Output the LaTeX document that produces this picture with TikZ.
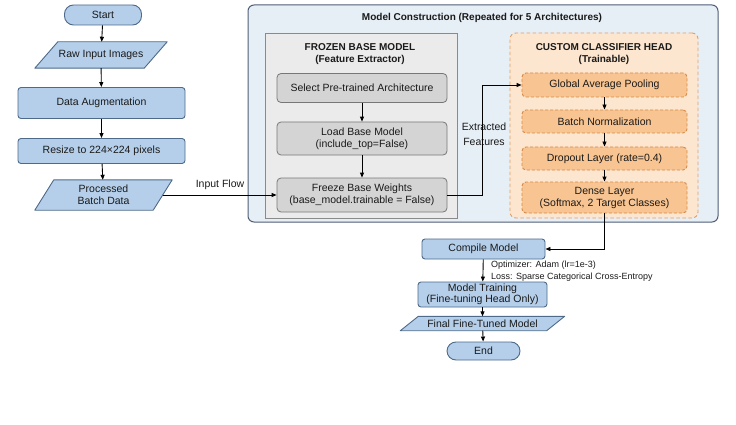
\documentclass[tikz,border=0pt]{standalone}
\usepackage{fontspec}
\setmainfont{Liberation Sans}
\usetikzlibrary{arrows.meta,positioning}
\definecolor{bluefill}{HTML}{B5CFEA}
\definecolor{blueline}{HTML}{4D6A8A}
\definecolor{outerfill}{HTML}{E6EEF6}
\definecolor{outerline}{HTML}{4F5F75}
\definecolor{grayfill}{HTML}{EBEBEB}
\definecolor{grayline}{HTML}{8A8A8A}
\definecolor{grayboxfill}{HTML}{D4D4D4}
\definecolor{grayboxline}{HTML}{777777}
\definecolor{orfill}{HTML}{FDE6CF}
\definecolor{orline}{HTML}{E0A06A}
\definecolor{orboxfill}{HTML}{F8C491}
\definecolor{orboxline}{HTML}{D58A4C}
\definecolor{txt}{HTML}{1A1A1A}
\tikzset{
  base/.style={font=\fontsize{10.5}{12}\selectfont, text=txt, align=center, inner sep=0pt},
  bluebox/.style={base, draw=blueline, fill=bluefill, line width=0.9pt, rounded corners=3pt},
  term/.style={base, draw=blueline, fill=bluefill, line width=0.9pt, rounded corners=9pt},
  iotext/.style={base},
  iofill/.style={draw=blueline, fill=bluefill, line width=0.9pt, line join=round},
  graybox/.style={base, draw=grayboxline, fill=grayboxfill, line width=0.8pt, rounded corners=4pt},
  orbox/.style={base, draw=orboxline, fill=orboxfill, line width=0.9pt, dashed, dash pattern=on 3pt off 2pt, rounded corners=4pt},
  titletext/.style={font=\bfseries\fontsize{10}{12}\selectfont, text=txt, align=center, inner sep=0pt},
  note/.style={font=\fontsize{9}{10}\selectfont, text=txt, align=left, inner sep=0pt},
  arr/.style={-{Triangle[length=5pt,width=4pt]}, line width=0.9pt, draw=black},
}
\newcommand{\parall}[2]{%
  \path[iofill] ([xshift=-#2]#1.south west) -- ([xshift=#2]#1.north west) -- ([xshift=#2]#1.north east) -- ([xshift=-#2]#1.south east) -- cycle;}
\begin{document}
\begin{tikzpicture}[x=1pt,y=-1pt]
\useasboundingbox (0,0) rectangle (736,425);
% containers
\node[draw=outerline, fill=outerfill, line width=1pt, rounded corners=6pt, minimum width=470pt, minimum height=217pt, inner sep=0pt] (outer) at (483,113.5) {};
\node[titletext] (outertitle) at (482,18) {Model Construction (Repeated for 5 Architectures)};
\node[draw=grayline, fill=grayfill, line width=0.8pt, minimum width=192pt, minimum height=185pt, inner sep=0pt] (frozen) at (361,125.5) {};
\node[titletext] (frozentitle) at (360,54.5) {FROZEN BASE MODEL\\(Feature Extractor)};
\node[draw=orline, fill=orfill, line width=0.9pt, dashed, dash pattern=on 3.5pt off 2.5pt, rounded corners=6pt, minimum width=188pt, minimum height=185pt, inner sep=0pt] (head) at (604,125.5) {};
\node[titletext] (headtitle) at (604,54.5) {CUSTOM CLASSIFIER HEAD\\(Trainable)};

% left column
\node[term, minimum width=77pt, minimum height=20pt] (start) at (103,15) {Start};
\node[iotext, minimum width=109pt, minimum height=26pt] (raw) at (101,55) {};
\parall{raw}{11.5pt}
\node[iotext] (rawtext) at (raw.center) {Raw Input Images};
\node[bluebox, minimum width=167pt, minimum height=31pt] (aug) at (101.5,103) {Data Augmentation};
\node[bluebox, minimum width=167pt, minimum height=25pt] (resize) at (101.5,151) {Resize to 224×224 pixels};
\node[iotext, minimum width=118pt, minimum height=30pt] (proc) at (103.5,195) {};
\parall{proc}{9.5pt}
\node[iotext] (proctext) at (proc.center) {Processed\\Batch Data};

% frozen column
\node[graybox, minimum width=170pt, minimum height=29pt] (select) at (362,88) {Select Pre-trained Architecture};
\node[graybox, minimum width=170pt, minimum height=33pt] (load) at (362,138.5) {Load Base Model\\(include\_top=False)};
\node[graybox, minimum width=170pt, minimum height=34pt] (freeze) at (362,195) {Freeze Base Weights\\(base\_model.trainable = False)};

% head column
\node[orbox, minimum width=165pt, minimum height=24pt] (gap) at (604.5,85) {Global Average Pooling};
\node[orbox, minimum width=165pt, minimum height=23pt] (bn) at (604.5,121.5) {Batch Normalization};
\node[orbox, minimum width=165pt, minimum height=23pt] (drop) at (604.5,158.5) {Dropout Layer (rate=0.4)};
\node[orbox, minimum width=165pt, minimum height=31pt] (dense) at (604.5,197.5) {Dense Layer\\(Softmax, 2 Target Classes)};

% bottom
\node[bluebox, minimum width=123pt, minimum height=20pt] (compile) at (483.5,249) {Compile Model};
\node[bluebox, minimum width=129pt, minimum height=25pt, font=\fontsize{10.5}{11}\selectfont] (train) at (482.5,294.5) {Model Training\\(Fine-tuning Head Only)};
\node[iotext, minimum width=146pt, minimum height=14pt] (final) at (482.5,323.5) {};
\parall{final}{9pt}
\node[iotext] (finaltext) at (final.center) {Final Fine-Tuned Model};
\node[term, minimum width=73pt, minimum height=18pt] (end) at (483.5,351) {End};

% labels
\node[base] (inflow) at (220,185) {Input Flow};
\node[base, font=\fontsize{10.5}{14.5}\selectfont] (extr) at (484,134) {Extracted\\Features};
\node[note, anchor=west] (opt) at (491,265.5) {Optimizer: Adam (lr=1e-3)};
\node[note, anchor=west] (loss) at (491,277) {Loss: Sparse Categorical Cross-Entropy};

% connectors
\draw[arr] (start) -- (raw);
\draw[arr] (raw) -- (aug);
\draw[arr] (aug) -- (resize);
\draw[arr] (resize) -- (proc);
\draw[arr] (proc.east) -- (freeze.west);
\draw[arr] (select) -- (load);
\draw[arr] (load) -- (freeze);
\draw[arr] (freeze.east) -| (482,85) -- (gap.west);
\draw[arr] (gap) -- (bn);
\draw[arr] (bn) -- (drop);
\draw[arr] (drop) -- (dense);
\draw[arr] (dense.south) |- (compile.east);
\draw[arr] (compile) -- (train);
\draw[arr] (train) -- (final);
\draw[arr] (final) -- (end);
\end{tikzpicture}
\end{document}
